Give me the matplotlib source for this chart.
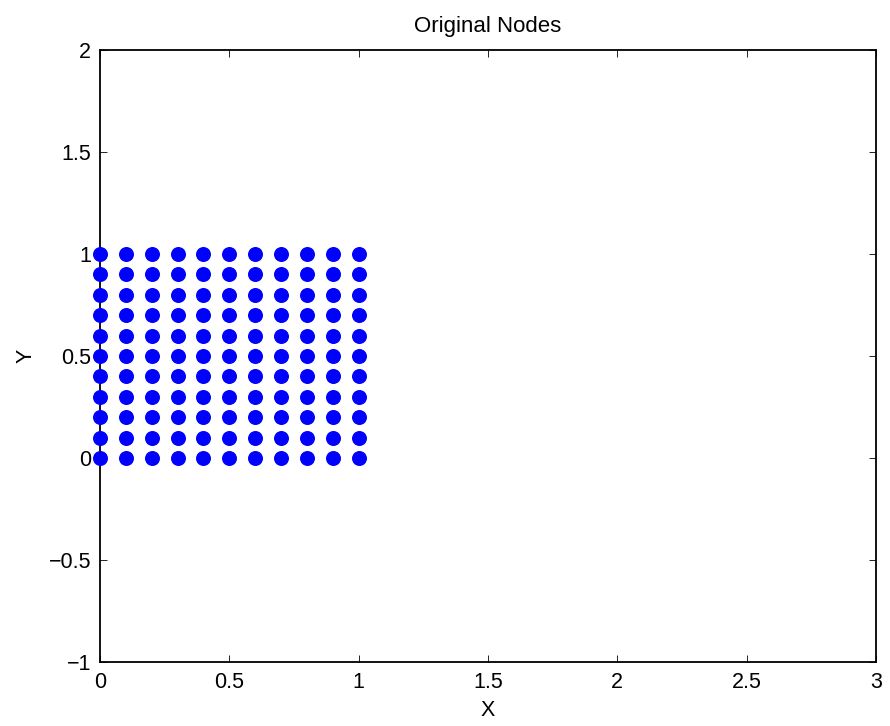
import matplotlib
matplotlib.use('Agg')
import matplotlib.pyplot as plt
import numpy as np

# node coordinates (regular grid)
x_nodes = [0.0, 0.1, 0.2, 0.3, 0.4, 0.5, 0.6, 0.7, 0.8, 0.9, 1.0]
y_nodes = [0.0, 0.1, 0.2, 0.3, 0.4, 0.5, 0.6, 0.7, 0.8, 0.9, 1.0]

x_ticks = [0, 0.5, 1, 1.5, 2, 2.5, 3]
x_labels = ['0', '0.5', '1', '1.5', '2', '2.5', '3']
y_ticks = [-1, -0.5, 0, 0.5, 1, 1.5, 2]
y_labels = ['\u22121', '\u22120.5', '0', '0.5', '1', '1.5', '2']

plt.rcParams['font.family'] = ['Liberation Sans', 'DejaVu Sans']

fig = plt.figure(figsize=(8.9, 7.26), dpi=100)
ax = fig.add_axes([100 / 890, 64 / 726, 776 / 890, 612 / 726])

xx, yy = np.meshgrid(x_nodes, y_nodes)
ax.plot(xx.ravel(), yy.ravel(), 'o', color='#0000ff', markersize=10.8,
        markeredgewidth=0, clip_on=False, zorder=5)

ax.set_xlim(0, 3)
ax.set_ylim(-1, 2)
ax.set_xticks(x_ticks)
ax.set_xticklabels(x_labels)
ax.set_yticks(y_ticks)
ax.set_yticklabels(y_labels)
ax.tick_params(direction='in', length=5, width=0.6, labelsize=15.5,
               top=True, right=True)
ax.tick_params(axis='x', pad=7)
ax.tick_params(axis='y', pad=6.5)
for sp in ax.spines.values():
    sp.set_linewidth(1.3)

ax.set_title('Original Nodes', fontsize=16, pad=13)
ax.set_xlabel('X', fontsize=15.5, labelpad=5.5)
ax.set_ylabel('Y', fontsize=15.5, labelpad=8.5)

fig.savefig('out.png', dpi=100)
